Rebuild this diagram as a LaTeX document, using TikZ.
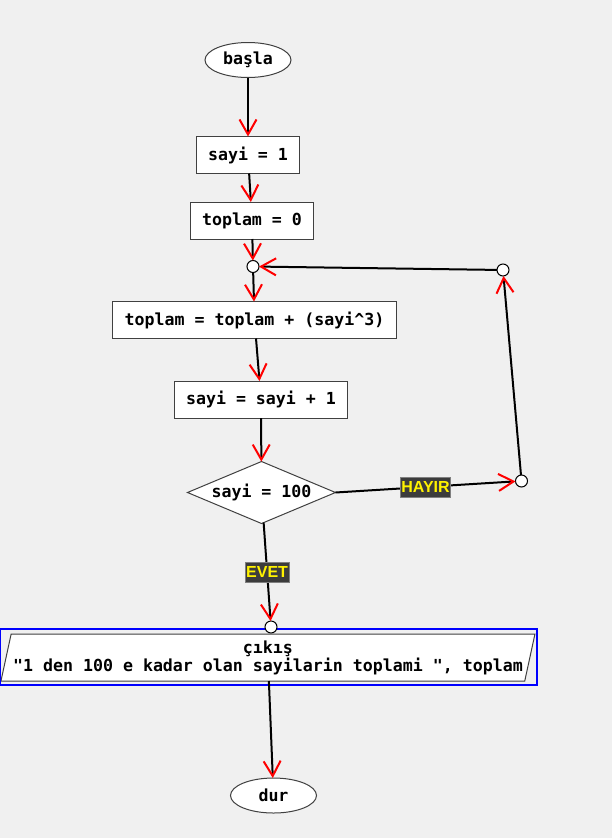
\documentclass[tikz,border=0pt]{standalone}
\usepackage{fontspec}
\setmonofont{DejaVu Sans Mono}
\newfontfamily\tagfont{Liberation Sans}
\usetikzlibrary{positioning,arrows.meta,shapes.geometric}
\definecolor{bg}{HTML}{F0F0F0}
\definecolor{edge}{HTML}{404040}
\definecolor{tagbg}{HTML}{3C3C3C}
\newcommand\flowfont{\ttfamily\bfseries\fontsize{16.6}{18}\selectfont}
\tikzset{
  terminal/.style={ellipse, draw=edge, fill=white, line width=1pt, outer sep=0pt,
    minimum width=86pt, minimum height=35pt, inner sep=0pt, font=\flowfont},
  process/.style={rectangle, draw=edge, fill=white, line width=1pt, outer sep=0pt,
    minimum height=37pt, inner xsep=12pt, inner ysep=0pt, font=\flowfont},
  decision/.style={diamond, draw=edge, fill=white, line width=1pt, aspect=2.4,
    outer sep=0pt, minimum width=148pt, minimum height=62pt, inner sep=0pt,
    font=\flowfont},
  output/.style={trapezium, trapezium left angle=75, trapezium right angle=105,
    trapezium stretches body, draw=edge, fill=white, line width=1pt,
    outer sep=0pt, minimum width=534pt, minimum height=47pt, inner xsep=0pt,
    inner ysep=2pt, align=center, font=\flowfont},
  joint/.style={circle, draw=black, fill=white, line width=1pt, outer sep=0pt,
    minimum size=12pt, inner sep=0pt},
  flow/.style={draw=black, line width=2pt,
    -{Straight Barb[color=red, length=15pt, width=17pt, line width=2pt]}},
  tag/.style={fill=tagbg, draw=gray, line width=0.5pt, text=yellow,
    font=\tagfont\bfseries\fontsize{16}{16}\selectfont,
    inner xsep=1pt, inner ysep=4pt, text height=12pt, text depth=0pt},
  selbox/.style={draw=blue, line width=2pt}
}

\begin{document}
\begin{tikzpicture}[x=1pt, y=-1pt]
    \fill[bg] (0,0) rectangle (612,838);
    \useasboundingbox (0,0) rectangle (612,838);

    \node[terminal] (bas) at (248,60) {başla};
    \node[process, below=59pt of bas] (s1) {sayi = 1};
    \node[process, below=28.5pt of s1, xshift=4pt] (t0) {toplam = 0};
    \node[joint, below=21.5pt of t0, xshift=1pt] (j1) {};
    \node[process, below=29pt of j1, xshift=1.5pt] (t1) {toplam = toplam + (sayi\textasciicircum 3)};
    \node[process, below=42.5pt of t1, xshift=6.5pt] (s2) {sayi = sayi + 1};
    \node[decision, below=43.5pt of s2, xshift=0.5pt] (kar) {sayi = 100};
    \node[joint, right=238pt of j1, yshift=-3.5pt] (j2) {};
    \node[joint, right=180pt of kar, yshift=11.5pt] (j3) {};
    \node[output, below=110.5pt of kar, xshift=6.5pt] (cik)
      {çıkış\\"1 den 100 e kadar olan sayilarin toplami ", toplam};
    \coordinate (c1) at ([shift={(-1pt,-4pt)}]cik.bottom left corner);
    \coordinate (c2) at ([shift={(2pt,5pt)}]cik.top right corner);
    \draw[selbox] (c1) rectangle (c2);
    \node[joint, above=1pt of cik, xshift=3pt] (j4) {};
    \node[terminal, below=97pt of cik, xshift=5.5pt] (dur) {dur};

    \draw[flow] (bas) -- (s1);
    \draw[flow] (s1) -- (t0);
    \draw[flow] (t0) -- (j1);
    \draw[flow] (j1) -- (t1);
    \draw[flow] (t1) -- (s2);
    \draw[flow] (s2) -- (kar);
    \draw[flow] (kar.east) -- node[tag] {HAYIR} (j3);
    \draw[flow] (j3) -- (j2);
    \draw[flow] (j2) -- (j1);
    \draw[flow] (kar) -- node[tag] {EVET} (j4);
    \draw[flow] (cik) -- (dur);
  \end{tikzpicture}
\end{document}
